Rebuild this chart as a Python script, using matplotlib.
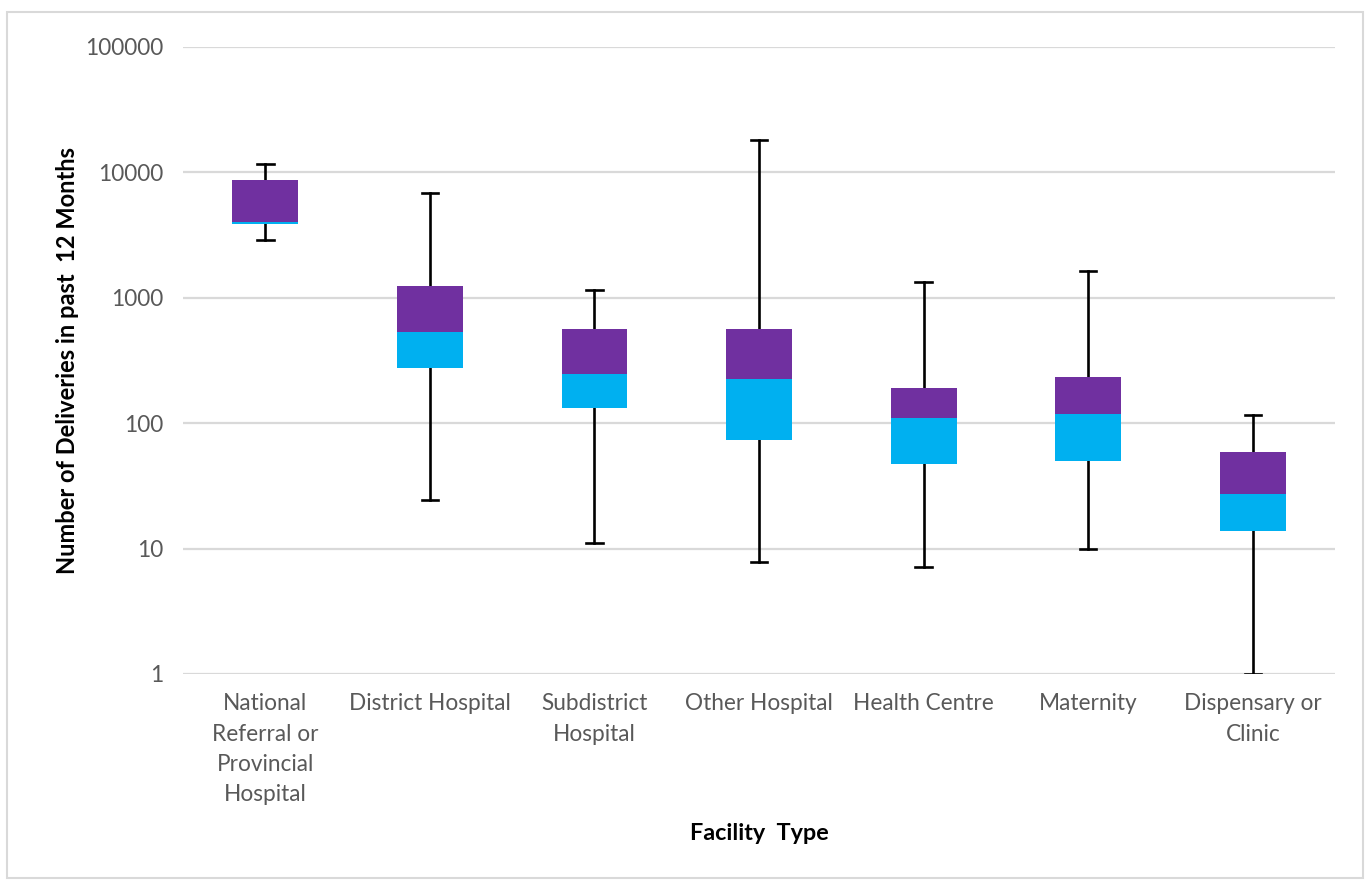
import matplotlib
matplotlib.use("Agg")
import matplotlib.pyplot as plt
from matplotlib.patches import Rectangle

plt.rcParams['font.family'] = ['Lato', 'DejaVu Sans']

# facility types and their delivery statistics
categories = ['National\nReferral or\nProvincial\nHospital', 'District Hospital',
              'Subdistrict\nHospital', 'Other Hospital', 'Health Centre',
              'Maternity', 'Dispensary or\nClinic']
mins = [2900, 24.4, 11.1, 7.8, 7.1, 9.9, 1]
q1 = [3850, 276, 132, 73.5, 47, 50, 13.8]
medians = [4050, 534, 247, 225, 111, 118, 27.2]
q3 = [8700, 1240, 564, 564, 191, 234, 59]
maxs = [11700, 6850, 1150, 18100, 1336, 1636, 116]

yticks = [1, 10, 100, 1000, 10000, 100000]

fig = plt.figure(figsize=(13.7, 8.8), dpi=100)
ax = fig.add_axes([0.1336, 0.2341, 0.8409, 0.7125])

x = list(range(len(categories)))
ax.bar(x, [m - a for m, a in zip(medians, q1)], bottom=q1, width=0.4,
       color='#00B0F0', zorder=3)
ax.bar(x, [b - m for b, m in zip(q3, medians)], bottom=medians, width=0.4,
       color='#7030A0', zorder=3)

# whiskers
for i in x:
    ax.plot([i, i], [q3[i], maxs[i]], color='black', lw=1.9, zorder=2)
    ax.plot([i, i], [mins[i], q1[i]], color='black', lw=1.9, zorder=2)
    ax.plot([i - 0.05, i + 0.05], [maxs[i], maxs[i]], color='black', lw=1.9, zorder=2)
    ax.plot([i - 0.05, i + 0.05], [mins[i], mins[i]], color='black', lw=1.9, zorder=2)

ax.set_yscale('log')
ax.set_ylim(1, 100000)
ax.set_xlim(-0.5, len(categories) - 0.5)
ax.set_yticks(yticks)
ax.set_yticklabels([str(v) for v in yticks])
ax.minorticks_off()
ax.set_xticks(x)
ax.set_xticklabels(categories, linespacing=1.55)
ax.tick_params(axis='both', length=0, labelsize=16.3, colors='#595959')
ax.tick_params(axis='y', pad=14.5)
ax.tick_params(axis='x', pad=14)
ax.grid(axis='y', color='#D9D9D9', lw=1.6, zorder=0)
for s in ax.spines.values():
    s.set_visible(False)

ax.set_ylabel('Number of Deliveries in past  12 Months', fontsize=17,
              fontweight='bold', color='black')
ax.yaxis.set_label_coords(-0.09, 0.5)
ax.set_xlabel('Facility  Type', fontsize=16.8, fontweight='bold', color='black')
ax.xaxis.set_label_coords(0.5, -0.238)

# chart border
fig.patches.append(Rectangle((7 / 1370, 2 / 880), 1356 / 1370, 866 / 880,
                             transform=fig.transFigure, fill=False,
                             edgecolor='#D9D9D9', lw=1.5))

fig.savefig('out.png', dpi=100)
